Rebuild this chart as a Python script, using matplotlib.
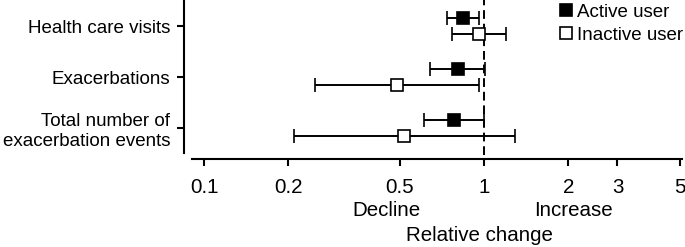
import matplotlib
matplotlib.use("Agg")
import matplotlib.pyplot as plt
from matplotlib.lines import Line2D

plt.rcParams['font.family'] = ['Liberation Sans', 'DejaVu Sans']

categories = ["Health care visits", "Exacerbations", "Total number of\nexacerbation events"]
active_est = [0.84, 0.805, 0.78]
active_lo = [0.74, 0.64, 0.61]
active_hi = [0.96, 1.01, 1.00]
inactive_est = [0.96, 0.49, 0.52]
inactive_lo = [0.77, 0.25, 0.21]
inactive_hi = [1.20, 0.96, 1.29]
xticks = [0.1, 0.2, 0.5, 1, 2, 3, 5]
xticklabels = ["0.1", "0.2", "0.5", "1", "2", "3", "5"]

W, H = 685, 247
fig = plt.figure(figsize=(W / 100, H / 100), dpi=100)
left_px, right_px, top_px, bottom_px = 192, 682, 0, 159
ax = fig.add_axes([left_px / W, 1 - bottom_px / H, (right_px - left_px) / W, (bottom_px - top_px) / H])

ax.set_xscale('log')
ax.set_xlim(0.0906, 5.1)
ymin_d = -26 / 51
ymax_d = (159 - 26) / 51
ax.set_ylim(ymax_d, ymin_d)

off = 0.157
lw = 1.4
for i in range(len(categories)):
    y1 = i - off
    y2 = i + off
    ax.errorbar(active_est[i], y1,
                xerr=[[active_est[i] - active_lo[i]], [active_hi[i] - active_est[i]]],
                fmt='s', color='black', mfc='black', mec='black', ms=8.3, mew=1.2,
                elinewidth=lw, capsize=4.8, capthick=lw, zorder=3)
    ax.errorbar(inactive_est[i], y2,
                xerr=[[inactive_est[i] - inactive_lo[i]], [inactive_hi[i] - inactive_est[i]]],
                fmt='s', color='black', mfc='white', mec='black', ms=8.3, mew=1.2,
                elinewidth=lw, capsize=4.8, capthick=lw, zorder=3)

ax.axvline(1, ymin=(159 - 155) / 159, ymax=1, color='black', ls=(0, (4.5, 2.5)), lw=1.4, zorder=2)

ax.set_xticks(xticks)
ax.set_xticklabels(xticklabels)
ax.minorticks_off()
ax.set_yticks(range(len(categories)))
ax.set_yticklabels(categories, ma='left')

for s in ['top', 'right']:
    ax.spines[s].set_visible(False)
ax.spines['left'].set_position(('outward', 6))
ax.spines['left'].set_bounds(ymin_d, (153 - 26) / 51)
ax.spines['left'].set_linewidth(1.5)
ax.spines['bottom'].set_linewidth(1.5)
ax.tick_params(axis='x', length=5, width=1.5, pad=9, labelsize=14.8)
ax.tick_params(axis='y', length=5, width=1.5, pad=4.5, labelsize=13.5)

def ftext(x, y, s, **kw):
    fig.text(x / W, 1 - y / H, s, ha='center', va='center', fontsize=14.8, **kw)

ftext(386, 210, "Decline")
ftext(573, 210, "Increase")
ftext(479, 235, "Relative change")

handles = [Line2D([], [], ls='none', marker='s', mfc='black', mec='black', ms=8.3, mew=1.2),
           Line2D([], [], ls='none', marker='s', mfc='white', mec='black', ms=8.3, mew=1.2)]
leg = fig.legend(handles, ["Active user", "Inactive user"], loc='upper right',
                 bbox_to_anchor=(1.0, 1.0 - 2 / H), frameon=False, fontsize=13.5,
                 handlelength=0.7, handletextpad=0.25, labelspacing=0.3,
                 borderpad=0.0, borderaxespad=0.1)

fig.savefig("out.png", dpi=100)
